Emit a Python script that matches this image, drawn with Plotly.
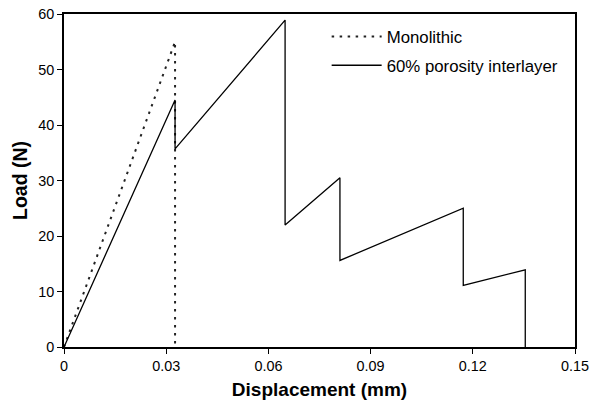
import plotly.graph_objects as go

mono_x = [0, 0.0326, 0.0326]
mono_y = [0, 55, 0]

por_x = [0, 0.0326, 0.0326, 0.0649, 0.0649, 0.081, 0.081, 0.1172, 0.1172, 0.1354, 0.1354]
por_y = [0, 44.5, 35.7, 58.9, 22.0, 30.5, 15.6, 25.0, 11.1, 13.9, 0]

x_ticks = [0, 0.03, 0.06, 0.09, 0.12, 0.15]
x_labels = ["0", "0.03", "0.06", "0.09", "0.12", "0.15"]
y_ticks = [0, 10, 20, 30, 40, 50, 60]

fig = go.Figure()
fig.add_trace(go.Scatter(x=mono_x, y=mono_y, mode="lines", name="Monolithic",
                         legendgroup="a",
                         line=dict(color="#222222", width=2, dash="2.5px,5.5px")))
fig.add_trace(go.Scatter(x=por_x, y=por_y, mode="lines", name="60% porosity interlayer",
                         legendgroup="b",
                         line=dict(color="black", width=1.3)))

font = "Liberation Sans, Arial, sans-serif"
fig.update_layout(
    width=597, height=405,
    margin=dict(l=64, r=22, t=14, b=58),
    paper_bgcolor="white", plot_bgcolor="white",
    font=dict(family=font, color="black", size=14),
    showlegend=True,
    legend=dict(x=0.514, y=0.985, xanchor="left", yanchor="top",
                bgcolor="rgba(0,0,0,0)", font=dict(size=16.8, family=font),
                traceorder="grouped", tracegroupgap=4, itemwidth=50),
)
fig.update_xaxes(range=[0, 0.15], tickvals=x_ticks, ticktext=x_labels, automargin=False,
                 showgrid=False, zeroline=False, showline=True, linecolor="black",
                 linewidth=1.5, mirror=True, ticks="outside", ticklen=5, tickcolor="black",
                 tickfont=dict(size=14.4),
                 title=dict(text="<b>Displacement (mm)</b>", font=dict(size=19), standoff=10))
fig.update_yaxes(range=[0, 60], tickvals=y_ticks, automargin=False,
                 showgrid=False, zeroline=False, showline=True, linecolor="black",
                 linewidth=1.5, mirror=True, ticks="outside", ticklen=5, tickcolor="black",
                 tickfont=dict(size=14.4),
                 title=dict(text="<b>Load (N)</b>", font=dict(size=19.5), standoff=6))

fig.write_html("out.html", config={"displayModeBar": False},
               post_script="document.body.style.margin='0px';document.body.style.overflow='hidden';")
